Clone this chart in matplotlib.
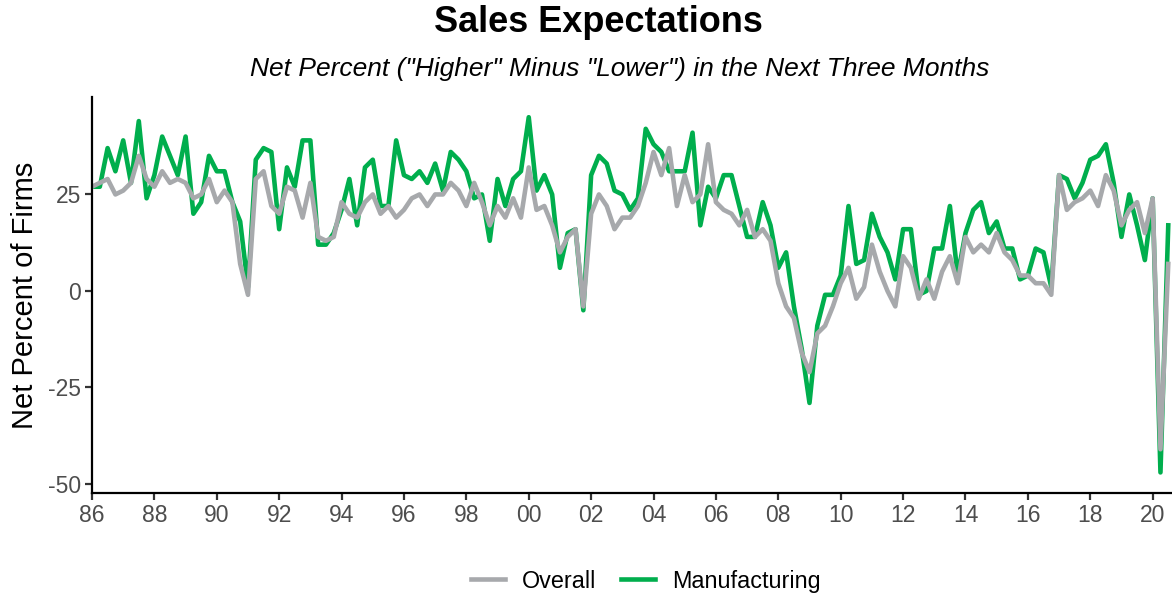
import numpy as np
import matplotlib.pyplot as plt

plt.rcParams['font.family'] = ['Liberation Sans', 'DejaVu Sans']
plt.rcParams['axes.unicode_minus'] = False

# quarterly readings, 1986Q1 .. 2020Q3
overall = [27, 28, 29, 25, 26, 28, 35, 29, 27, 31, 28, 29, 28, 24, 25, 29,
           23, 26, 23, 7, -1, 29, 31, 22, 20, 27, 26, 19, 28, 14, 13, 14,
           23, 20, 19, 23, 25, 20, 22, 19, 21, 24, 25, 22, 25, 25, 28, 26,
           22, 28, 23, 17, 22, 19, 24, 19, 32, 21, 22, 17, 10, 14, 16, -4,
           20, 25, 22, 16, 19, 19, 22, 28, 36, 30, 37, 22, 30, 23, 25, 38,
           23, 21, 20, 17, 21, 14, 16, 13, 2, -4, -7, -16, -21, -11, -9, -4,
           2, 6, -2, 1, 12, 5, 0, -4, 9, 6, -2, 3, -2, 5, 9, 2,
           14, 10, 12, 10, 15, 10, 8, 4, 4, 2, 2, -1, 30, 21, 23, 24,
           26, 22, 30, 26, 17, 21, 23, 15, 24, -41, 7]

manufacturing = [27, 27, 37, 31, 39, 28, 44, 24, 30, 40, 35, 30, 40, 20, 23, 35,
                 31, 31, 23, 18, 1, 34, 37, 36, 16, 32, 27, 39, 39, 12, 12, 15,
                 21, 29, 17, 32, 34, 22, 22, 39, 30, 29, 31, 28, 33, 26, 36, 34,
                 31, 24, 25, 13, 29, 22, 29, 31, 45, 26, 30, 25, 6, 15, 16, -5,
                 30, 35, 33, 26, 25, 21, 24, 42, 38, 36, 31, 31, 31, 41, 17, 27,
                 24, 30, 30, 22, 14, 14, 23, 17, 6, 10, -4, -15, -29, -9, -1, -1,
                 4, 22, 7, 8, 20, 14, 10, 3, 16, 16, -1, 0, 11, 11, 22, 4,
                 15, 21, 23, 15, 18, 11, 11, 3, 4, 11, 10, 1, 30, 29, 24, 28,
                 34, 35, 38, 28, 14, 25, 17, 8, 24, -47, 17]

tick_years = list(range(1986, 2021, 2))
tick_labels = [str(y)[2:] for y in tick_years]
y_ticks = [-50, -25, 0, 25]

x = 1986 + np.arange(len(overall)) / 4

fig = plt.figure(figsize=(11.72, 5.96), dpi=100)
ax = fig.add_axes([0.0785, 0.173, 0.9215, 0.664])

ax.plot(x, manufacturing, color='#00AE4D', lw=3.3, label='Manufacturing', solid_joinstyle='round')
ax.plot(x, overall, color='#A7A9AC', lw=3.3, label='Overall', solid_joinstyle='round')

ax.set_xlim(1986, 2020.62)
ax.set_ylim(-52.3, 50.2)
ax.set_xticks(tick_years)
ax.set_xticklabels(tick_labels)
ax.set_yticks(y_ticks)

for s in ['top', 'right']:
    ax.spines[s].set_visible(False)
for s in ['left', 'bottom']:
    ax.spines[s].set_linewidth(1.6)
    ax.spines[s].set_color('black')
ax.tick_params(length=5, width=1.6, colors='#333333', labelsize=16.5, labelcolor='#4D4D4D', pad=3)

ax.set_ylabel('Net Percent of Firms', fontsize=21, labelpad=6)

fig.text(0.511, 0.962, 'Sales Expectations', ha='center', va='center', fontsize=26, fontweight='bold')
fig.text(0.529, 0.884, 'Net Percent ("Higher" Minus "Lower") in the Next Three Months',
         ha='center', va='center', fontsize=19, style='italic')

h, l = ax.get_legend_handles_labels()
fig.legend(h[::-1], l[::-1], loc='center', bbox_to_anchor=(0.551, 0.025), ncol=2, frameon=False,
           fontsize=16.8, handlelength=1.45, columnspacing=1.1, handletextpad=0.7)

fig.savefig('out.png', dpi=100)
